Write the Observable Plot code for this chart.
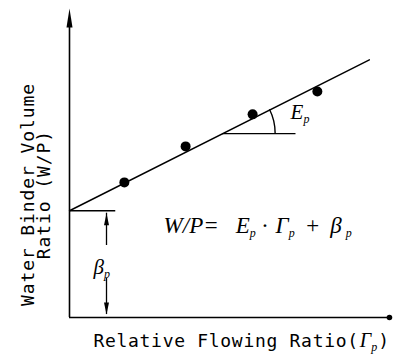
<!DOCTYPE html>
<html>
<head>
<meta charset="utf-8">
<script src="https://cdn.jsdelivr.net/npm/d3@7"></script>
<script src="https://cdn.jsdelivr.net/npm/@observablehq/plot@0.6"></script>
<style>
  html, body { margin: 0; padding: 0; background: #fff; }
</style>
</head>
<body>
<div id="chart"></div>
<script>
// Measured points: relative flowing ratio Γp vs water/binder volume ratio W/P
const flowRatio = [1.72, 3.64, 5.74, 7.77];
const wpRatio   = [4.43, 5.61, 6.66, 7.41];

// Fitted straight line W/P = Ep·Γp + βp (end points)
const fitX = [0, 9.4];
const fitY = [3.5, 8.45];
const betaP = 3.5;

// Slope construction: horizontal from a point on the line
const angleX = [4.8, 7.1];
const angleY = 6.03;

// β dimension: x position, arrow shafts (value ranges)
const betaX = 1.16;
const betaShaftTop = [2.36, 3.42];
const betaShaftBottom = [1.28, 0.1];
const interceptTick = [0, 1.45];

const axisTop = 10.13;
const axisRight = 10.03;

const mono = "DejaVu Sans Mono";
const serif = "Liberation Serif";

const points = flowRatio.map((x, i) => ({x, y: wpRatio[i]}));
const fit = fitX.map((x, i) => ({x, y: fitY[i]}));

// Narrow filled arrowhead with its tip at the anchor point, pointing up
const arrowHead = (w, len) => ({
  draw(ctx) {
    ctx.moveTo(0, 0);
    ctx.lineTo(w / 2, len);
    ctx.lineTo(-w / 2, len);
    ctx.closePath();
  }
});

// Arc marking the slope angle Ep at the start of the horizontal
function slopeArc(index, scales) {
  const {x, y} = scales;
  const cx = x(angleX[0]), cy = y(angleY);
  const theta = Math.atan2(y(fitY[0]) - y(fitY[1]), x(fitX[1]) - x(fitX[0]));
  const r = 53;
  const path = document.createElementNS("http://www.w3.org/2000/svg", "path");
  path.setAttribute("d",
    `M${cx + r},${cy}A${r},${r} 0 0 0 ${cx + r * Math.cos(theta)},${cy - r * Math.sin(theta)}`);
  path.setAttribute("fill", "none");
  path.setAttribute("stroke", "black");
  path.setAttribute("stroke-width", 1.4);
  return path;
}

const svg = Plot.plot({
  width: 393,
  height: 354,
  marginLeft: 69,
  marginRight: 5,
  marginTop: 12,
  marginBottom: 37,
  x: {domain: [0, 10], axis: null},
  y: {domain: [0, 10], axis: null},
  style: {background: "#fff", color: "black"},
  marks: [
    // axes
    Plot.ruleX([0], {y1: 0, y2: axisTop - 0.4, stroke: "black", strokeWidth: 1.6}),
    Plot.ruleY([0], {x1: 0, x2: axisRight, stroke: "black", strokeWidth: 1.6}),
    Plot.dot([{x: 0, y: axisTop}], {x: "x", y: "y", symbol: arrowHead(6, 19), fill: "black", stroke: "none"}),
    Plot.dot([{x: axisRight, y: 0}], {x: "x", y: "y", r: 2.8, fill: "black", stroke: "none"}),

    // fitted line and data
    Plot.line(fit, {x: "x", y: "y", stroke: "black", strokeWidth: 1.4}),
    Plot.dot(points, {x: "x", y: "y", r: 5, fill: "black", stroke: "none"}),

    // intercept βp
    Plot.ruleY([betaP], {x1: interceptTick[0], x2: interceptTick[1], stroke: "black", strokeWidth: 1.4}),
    Plot.ruleX([betaX], {y1: betaShaftTop[0], y2: betaShaftTop[1], stroke: "black", strokeWidth: 1.3}),
    Plot.ruleX([betaX], {y1: betaShaftBottom[0], y2: betaShaftBottom[1], stroke: "black", strokeWidth: 1.3}),
    Plot.dot([{x: betaX, y: betaShaftTop[1], r: 0}, {x: betaX, y: betaShaftBottom[1], r: 180}],
      {x: "x", y: "y", rotate: "r", symbol: arrowHead(5, 12), fill: "black", stroke: "none"}),

    // slope Ep
    Plot.ruleY([angleY], {x1: angleX[0], x2: angleX[1], stroke: "black", strokeWidth: 1.4}),
    slopeArc,

    // labels
    Plot.text(["Ep"], {x: 6.93, y: 6.72, textAnchor: "start", fontFamily: serif, fontStyle: "italic", fontSize: 21, ariaDescription: "ep-label"}),
    Plot.text(["βp"], {x: 0.75, y: 1.64, textAnchor: "start", fontFamily: serif, fontStyle: "italic", fontSize: 21, ariaDescription: "beta-label"}),
    Plot.text(["W/P= Ep · Γp + βp"], {x: 2.95, y: 3.0, textAnchor: "start", fontFamily: serif, fontStyle: "italic", fontSize: 23, ariaDescription: "equation"}),
    Plot.text(["Relative Flowing Ratio(Γp)"], {x: 0.75, y: -0.79, textAnchor: "start", fontFamily: mono, fontSize: 18, ariaDescription: "x-title"}),
    Plot.text(["Water Binder Volume\nRatio (W/P)"], {x: -1.03, y: 4.03, rotate: -90, lineHeight: 0.9, fontFamily: mono, fontSize: 18, ariaDescription: "y-title"})
  ]
});

// Rebuild a label with italic symbols and lowered subscripts
function richText(name, parts) {
  d3.select(svg).selectAll(`g[aria-description="${name}"] text`).each(function () {
    const t = d3.select(this).text("");
    let shift = 0;
    for (const p of parts) {
      const s = t.append("tspan").text(p.t);
      const down = p.sub ? 4 : 0;
      if (down - shift) s.attr("dy", down - shift);
      shift = down;
      if (p.dx) s.attr("dx", p.dx);
      if (p.size) s.attr("font-size", p.size);
      if (p.sub) s.attr("font-size", 12);
      if (p.font) s.attr("font-family", p.font);
      if (p.italic) s.attr("font-style", "italic");
      if (p.spacing != null) s.attr("letter-spacing", p.spacing);
    }
  });
}

richText("ep-label", [{t: "E"}, {t: "p", sub: true}]);
richText("beta-label", [{t: "β"}, {t: "p", sub: true}]);
richText("equation", [
  {t: "W/P="}, {t: "E", dx: 17}, {t: "p", sub: true},
  {t: "·", dx: 6}, {t: "Γ", dx: 8}, {t: "p", sub: true},
  {t: "+", dx: 10}, {t: "β", dx: 10}, {t: "p", sub: true, dx: 4}
]);
richText("x-title", [
  {t: "Relative Flowing Ratio(", spacing: 0.7},
  {t: "Γ", font: serif, italic: true, spacing: 0, size: 20, dx: 1},
  {t: "p", sub: true, font: serif, italic: true, spacing: 0},
  {t: ")", spacing: 0, dx: 1}
]);
d3.select(svg).selectAll('g[aria-description="y-title"] text').attr("letter-spacing", 0.9);

document.getElementById("chart").appendChild(svg);
</script>
</body>
</html>
